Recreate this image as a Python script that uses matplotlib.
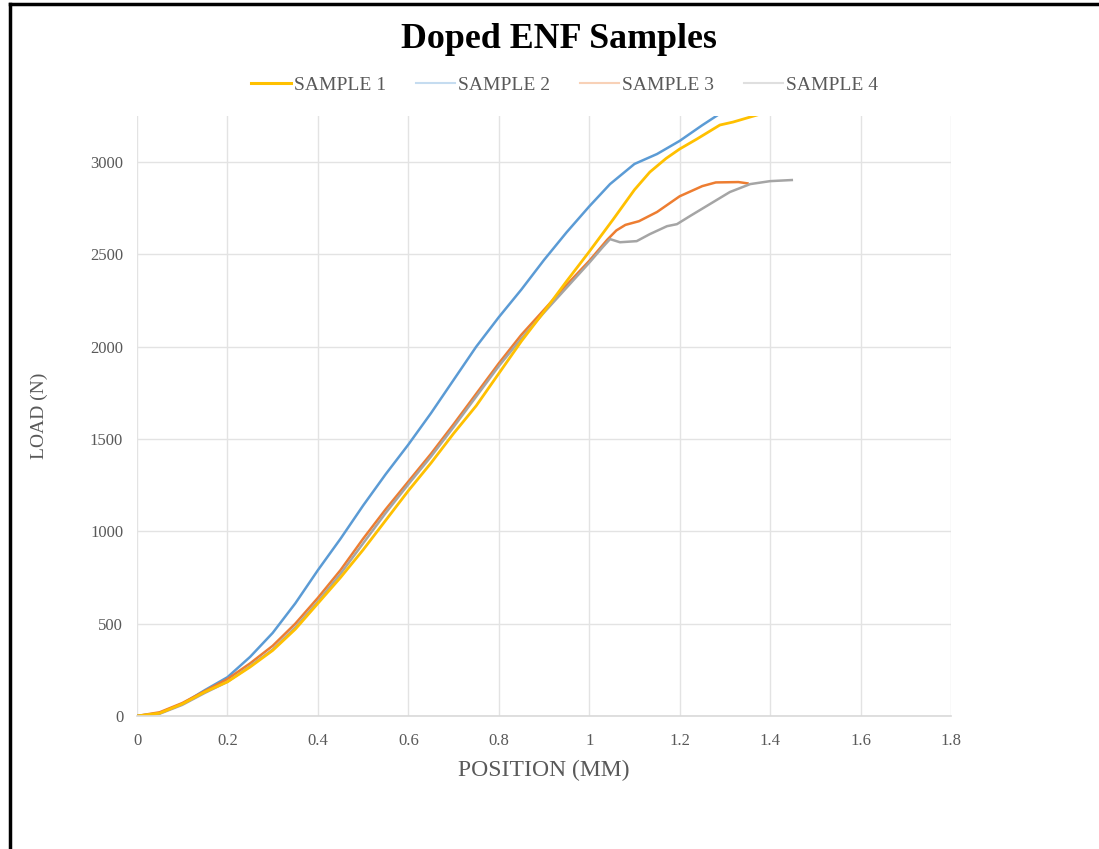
import matplotlib
matplotlib.use("Agg")
import matplotlib.pyplot as plt
from matplotlib.lines import Line2D

plt.rcParams['font.family'] = ['Liberation Serif', 'DejaVu Serif']

# sample 1 (yellow)
x1 = [0, 0.05, 0.1, 0.15, 0.2, 0.25, 0.3, 0.35, 0.4, 0.45, 0.5, 0.55, 0.6, 0.65, 0.7,
      0.75, 0.8, 0.85, 0.9, 0.95, 1.0, 1.053, 1.1, 1.134, 1.17, 1.2, 1.238, 1.289,
      1.318, 1.371]
y1 = [0, 15, 65, 130, 185, 265, 355, 470, 610, 750, 900, 1060, 1220, 1370, 1530,
      1680, 1855, 2030, 2190, 2355, 2515, 2690, 2850, 2946, 3020, 3071, 3125, 3201,
      3217, 3255]

# sample 2 (blue)
x2 = [0, 0.05, 0.1, 0.15, 0.2, 0.25, 0.3, 0.35, 0.4, 0.45, 0.5, 0.55, 0.6, 0.65, 0.7,
      0.75, 0.8, 0.85, 0.9, 0.95, 1.0, 1.046, 1.1, 1.15, 1.2, 1.25, 1.3]
y2 = [0, 15, 65, 140, 210, 320, 450, 610, 790, 960, 1140, 1310, 1470, 1640, 1820,
      2000, 2160, 2310, 2470, 2620, 2760, 2881, 2990, 3044, 3115, 3200, 3280]

# sample 3 (orange)
x3 = [0, 0.05, 0.1, 0.15, 0.2, 0.25, 0.3, 0.35, 0.4, 0.45, 0.5, 0.55, 0.6, 0.65, 0.7,
      0.75, 0.8, 0.85, 0.9, 0.95, 1.0, 1.04, 1.06, 1.08, 1.11, 1.15, 1.2, 1.25, 1.28,
      1.33, 1.35]
y3 = [0, 20, 70, 135, 200, 285, 380, 500, 640, 790, 960, 1120, 1270, 1420, 1580,
      1745, 1910, 2065, 2200, 2335, 2465, 2580, 2630, 2660, 2680, 2730, 2815, 2870,
      2890, 2892, 2885]

# sample 4 (grey)
x4 = [0, 0.05, 0.1, 0.15, 0.2, 0.25, 0.3, 0.35, 0.4, 0.45, 0.5, 0.55, 0.6, 0.65, 0.7,
      0.75, 0.8, 0.85, 0.9, 0.95, 1.0, 1.03, 1.046, 1.068, 1.105, 1.134, 1.172, 1.194,
      1.223, 1.267, 1.311, 1.356, 1.4, 1.448]
y4 = [0, 12, 60, 125, 185, 270, 360, 480, 620, 770, 935, 1100, 1255, 1405, 1565,
      1730, 1895, 2045, 2185, 2320, 2455, 2540, 2583, 2566, 2572, 2610, 2653, 2664,
      2708, 2773, 2838, 2881, 2897, 2903]

names = ['SAMPLE 1', 'SAMPLE 2', 'SAMPLE 3', 'SAMPLE 4']
colors = ['#FFC000', '#5B9BD5', '#ED7D31', '#A5A5A5']

fig = plt.figure(figsize=(10.99, 8.49), dpi=100)
ax = fig.add_axes([0.1247, 0.1567, 0.7406, 0.7067])

ax.plot(x2, y2, color=colors[1], lw=1.8)
ax.plot(x3, y3, color=colors[2], lw=1.8)
ax.plot(x4, y4, color=colors[3], lw=1.8)
ax.plot(x1, y1, color=colors[0], lw=2.0)

ax.set_xlim(0, 1.8)
ax.set_ylim(0, 3250)
ax.set_xticks([0, 0.2, 0.4, 0.6, 0.8, 1, 1.2, 1.4, 1.6, 1.8])
ax.set_xticklabels(['0', '0.2', '0.4', '0.6', '0.8', '1', '1.2', '1.4', '1.6', '1.8'])
ax.set_yticks([0, 500, 1000, 1500, 2000, 2500, 3000])
ax.grid(True, color='#E3E3E3', lw=1)
ax.set_axisbelow(True)
for s in ['top', 'right', 'left']:
    ax.spines[s].set_visible(False)
ax.spines['bottom'].set_color('#D9D9D9')
ax.spines['bottom'].set_linewidth(1.2)
ax.tick_params(axis='y', length=0, labelsize=12, labelcolor='#595959', pad=10)
ax.tick_params(axis='x', length=0, labelsize=12, labelcolor='#595959', pad=12)

ax.set_xlabel('POSITION (MM)', fontsize=17, color='#595959', labelpad=8)
ax.set_ylabel('LOAD (N)', fontsize=14, color='#595959', labelpad=30)

fig.text(0.509, 0.953, 'Doped ENF Samples', ha='center', va='center',
         fontsize=25.8, fontweight='bold', color='black')

handles = [Line2D([], [], color=colors[0], lw=2.2)]
for c in colors[1:]:
    handles.append(Line2D([], [], color=c, lw=1.5, alpha=0.35))
fig.legend(handles, names, loc='center', bbox_to_anchor=(0.514, 0.9), ncol=4,
           frameon=False, fontsize=14, labelcolor='#595959', handlelength=2.05,
           handletextpad=0.15, columnspacing=1.5)

# page border (top and left)
fig.add_artist(Line2D([0.009, 1], [0.995, 0.995], color='black', lw=2.5,
                      transform=fig.transFigure))
fig.add_artist(Line2D([0.009, 0.009], [0, 0.995], color='black', lw=2.5,
                      transform=fig.transFigure))

fig.savefig('out.png', dpi=100)
